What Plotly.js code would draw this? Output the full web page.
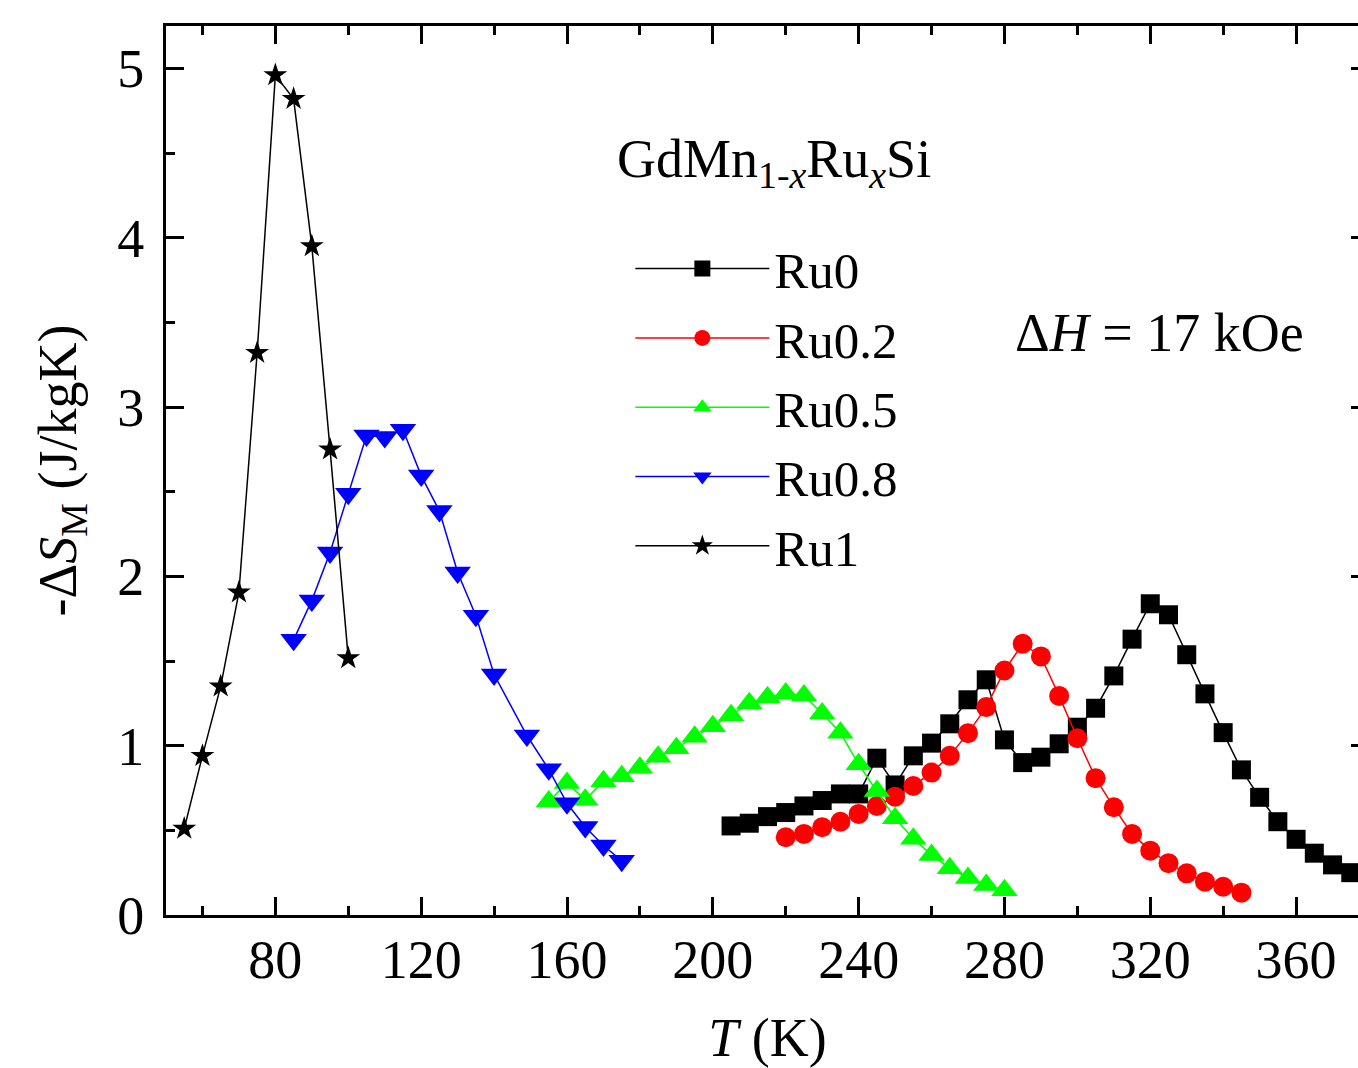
<!DOCTYPE html>
<html>
<head>
<meta charset="utf-8">
<script src="https://cdn.plot.ly/plotly-3.0.1.min.js"></script>
<style>
  html, body { margin: 0; padding: 0; overflow: hidden; background: #fff; }
  #chart { width: 1380px; height: 1068px; }
</style>
</head>
<body>
<div id="chart"></div>
<script>
// Temperature (K) and -ΔS_M (J/kgK) for GdMn(1-x)Ru(x)Si
const T_Ru0 = [205,210,215,220,225,230,235,240,245,250,255,260,265,270,275,280,285,290,295,300,305,310,315,320,325,330,335,340,345,350,355,360,365,370,375];
const S_Ru0 = [0.526,0.542,0.581,0.605,0.644,0.676,0.715,0.715,0.926,0.768,0.94,1.015,1.129,1.271,1.389,1.034,0.90,0.932,1.011,1.109,1.221,1.412,1.629,1.838,1.773,1.537,1.306,1.077,0.857,0.695,0.551,0.447,0.365,0.296,0.25];

const T_Ru02 = [220,225,230,235,240,245,250,255,260,265,270,275,280,285,290,295,300,305,310,315,320,325,330,335,340,345];
const S_Ru02 = [0.459,0.479,0.518,0.551,0.597,0.644,0.699,0.762,0.841,0.94,1.074,1.228,1.444,1.602,1.527,1.294,1.044,0.808,0.636,0.479,0.38,0.306,0.246,0.197,0.167,0.132];

const T_Ru05 = [155,160,165,170,175,180,185,190,195,200,205,210,215,220,225,230,235,240,245,250,255,260,265,270,275,280];
const S_Ru05 = [0.67,0.78,0.68,0.79,0.82,0.87,0.934,0.985,1.052,1.115,1.18,1.251,1.286,1.308,1.296,1.19,1.076,0.89,0.733,0.571,0.45,0.355,0.276,0.219,0.177,0.146];

const T_Ru08 = [85,90,95,100,105,110,115,120,125,130,135,140,149,155,160,165,170,175];
const S_Ru08 = [1.625,1.858,2.141,2.488,2.831,2.823,2.866,2.595,2.386,2.023,1.767,1.42,1.06,0.86,0.66,0.52,0.41,0.32];

const T_Ru1 = [55,60,65,70,75,80,85,90,95,100];
const S_Ru1 = [0.51,0.94,1.35,1.905,3.32,4.96,4.82,3.95,2.75,1.517];

const seriesNames = ["Ru0","Ru0.2","Ru0.5","Ru0.8","Ru1"];
const xTickVals = [80,120,160,200,240,280,320,360];
const yTickVals = [0,1,2,3,4,5];

const FONT = "Liberation Serif, Times New Roman, serif";

function tr(x, y, name, color, symbol, size, group) {
  return {
    x: x, y: y, name: name, type: "scatter", mode: "lines+markers",
    legendgroup: group,
    line: { color: color, width: 1.5 },
    marker: { color: color, symbol: symbol, size: size, line: { width: 0 } }
  };
}

const data = [
  tr(T_Ru0, S_Ru0, seriesNames[0], "#000000", "square", 19, "g1"),
  tr(T_Ru02, S_Ru02, seriesNames[1], "#ff0000", "circle", 20, "g2"),
  tr(T_Ru05, S_Ru05, seriesNames[2], "#00ff00", "triangle-up", 23, "g3"),
  tr(T_Ru08, S_Ru08, seriesNames[3], "#0000ff", "triangle-down", 23, "g4"),
  tr(T_Ru1, S_Ru1, seriesNames[4], "#000000", "star", 18, "g5")
];

const axisCommon = {
  showgrid: false, zeroline: false,
  showline: true, linecolor: "#000", linewidth: 3, mirror: "ticks",
  ticks: "inside", ticklen: 18, tickwidth: 3, tickcolor: "#000",
  tickfont: { family: FONT, size: 54, color: "#000" }
};

const layout = {
  width: 1380, height: 1068,
  margin: { l: 166, r: 11, t: 26, b: 153 },
  paper_bgcolor: "#fff", plot_bgcolor: "#fff",
  font: { family: FONT, color: "#000" },
  showlegend: true,
  legend: {
    x: 0.386, xanchor: "left", y: 0.7717, yanchor: "top",
    bgcolor: "rgba(0,0,0,0)", borderwidth: 0,
    font: { family: FONT, size: 51, color: "#000" },
    itemwidth: 134, tracegroupgap: 0, itemsizing: "trace"
  },
  xaxis: Object.assign({}, axisCommon, {
    range: [50, 380], tickmode: "array", tickvals: xTickVals,
    ticklabelstandoff: -5,
    minor: { dtick: 20, tick0: 0, ticks: "inside", ticklen: 9, tickwidth: 3, tickcolor: "#000" },
    title: { text: "<i>T</i> (K)", font: { family: FONT, size: 54, color: "#000" }, standoff: 35 }
  }),
  yaxis: Object.assign({}, axisCommon, {
    range: [0, 5.25], tickmode: "array", tickvals: yTickVals,
    ticklabelstandoff: 8,
    minor: { dtick: 0.5, tick0: 0, ticks: "inside", ticklen: 9, tickwidth: 3, tickcolor: "#000" },
    title: { text: "-Δ<i>S</i><sub>M</sub> (J/kgK)", font: { family: FONT, size: 54, color: "#000" }, standoff: 24 }
  }),
  annotations: [
    {
      xref: "paper", yref: "paper", x: 0.3735, y: 0.846, xanchor: "left", yanchor: "middle",
      text: "GdMn<sub>1-<i>x</i></sub>Ru<sub><i>x</i></sub>Si", showarrow: false,
      font: { family: FONT, size: 54, color: "#000" }
    },
    {
      xref: "paper", yref: "paper", x: 0.7043, y: 0.6547, xanchor: "left", yanchor: "middle",
      text: "Δ<i>H</i> = 17 kOe", showarrow: false,
      font: { family: FONT, size: 54, color: "#000" }
    }
  ]
};

Plotly.newPlot("chart", data, layout, { displayModeBar: false, staticPlot: true });
</script>
</body>
</html>
